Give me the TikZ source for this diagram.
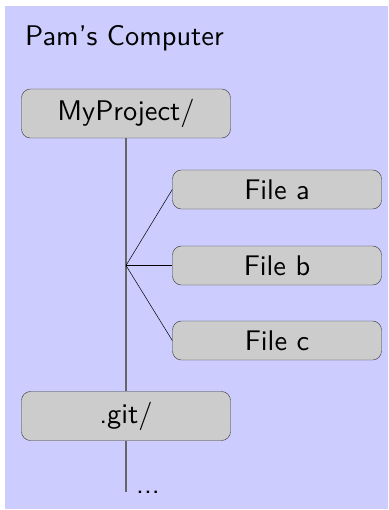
\documentclass[tikz,border=0pt]{standalone}
\usepackage{tikz}
\usetikzlibrary{shapes,calc}

\newcommand{\bigsf}[1]{\scalebox{2.85}{\sffamily #1}}

\begin{document}
\begin{tikzpicture}[x=1bp,y=-1bp]
\tikzset{
	dir node/.style = {rectangle, rounded corners = 9, draw = black!80, fill = black!20, minimum width = 209bp, minimum height = 49bp, inner sep = 0},
	file node/.style = {dir node, minimum height = 39bp},
	trunk/.style = {draw = black!60, line width = 1.2bp},
	branch/.style = {draw = black, line width = 0.5bp},
}
\useasboundingbox (0,0) rectangle (388,510);
\fill[blue!20] (5,6) rectangle (388,509);

\node(title)[anchor = base west, inner sep = 0] at (25,46) {\bigsf{Pam's Computer}};

\node(proj)[dir node] at (126,113.5) {\bigsf{MyProject/}};
\node(fa)[file node] at (277,189.5) {\bigsf{File a}};
\node(fb)[file node] at (277,265.5) {\bigsf{File b}};
\node(fc)[file node] at (277,340.5) {\bigsf{File c}};
\node(git)[dir node] at (126,416) {\bigsf{.git/}};
\coordinate(fork) at (126,265.5);
\coordinate(tail) at (126,492);
\node(dots)[anchor = base west, inner sep = 0] at (136,493) {\bigsf{...}};

\draw [trunk] (proj) -- (git);
\draw [trunk] (git) -- (tail);
\draw [branch] (fork) -- (fa.west);
\draw [branch] (fork) -- (fb.west);
\draw [branch] (fork) -- (fc.west);

\end{tikzpicture}
\end{document}
